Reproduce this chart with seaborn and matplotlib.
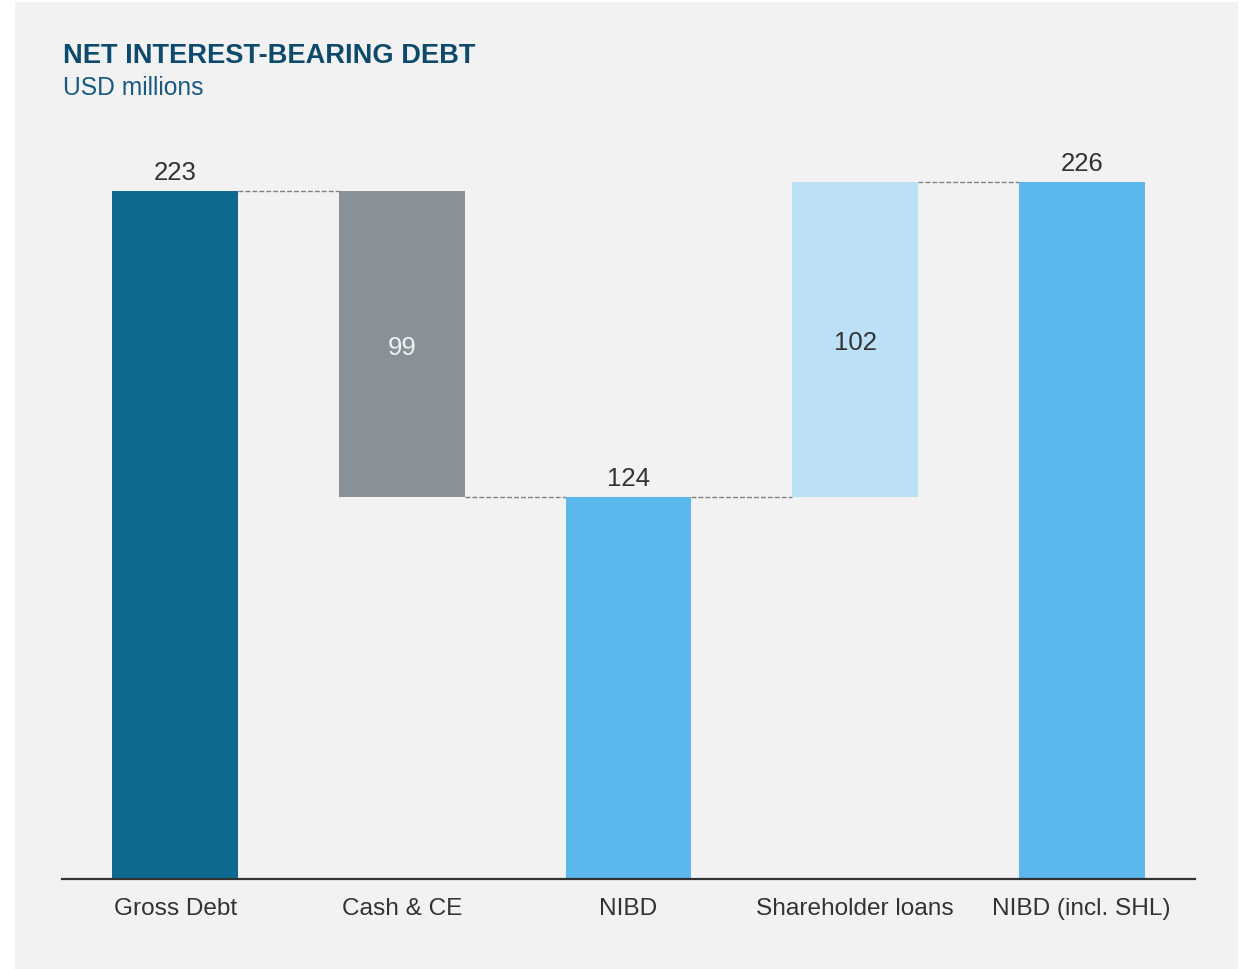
import matplotlib
matplotlib.use("Agg")
import matplotlib.pyplot as plt
from matplotlib.patches import Rectangle
import seaborn as sns
import pandas as pd

# Waterfall data (USD millions)
categories = ["Gross Debt", "Cash & CE", "NIBD", "Shareholder loans", "NIBD (incl. SHL)"]
values = [223, -99, 124, 102, 226]
kinds = ["total", "delta", "total", "delta", "total"]
bar_colors = ["#0f6890", "#879197", "#5bb7ec", "#bce1f6", "#5bb7ec"]
inner_label_colors = {"Cash & CE": "#f2f2f2", "Shareholder loans": "#333333"}

# Compute floating segments
bottoms, heights, tops = [], [], []
level = 0
for v, k in zip(values, kinds):
    if k == "total":
        b, h = 0, v
        level = v
    else:
        start = level
        level = level + v
        b, h = min(start, level), abs(v)
    bottoms.append(b)
    heights.append(h)
    tops.append(b + h)

df = pd.DataFrame({"category": categories, "height": heights, "bottom": bottoms})

sns.set_theme(style="white")
plt.rcParams["font.family"] = ["Liberation Sans", "DejaVu Sans"]

BG = "#f2f2f2"
fig = plt.figure(figsize=(12.43, 9.70), dpi=100, facecolor="white")
fig.patches.append(Rectangle((15 / 1243, 0), 1223 / 1243, 967 / 970,
                             transform=fig.transFigure, facecolor=BG,
                             edgecolor="none", zorder=-10))

ax = fig.add_axes([62 / 1243, 90 / 970, 1133 / 1243, 740 / 970])
ax.set_facecolor(BG)
ax.patch.set_alpha(0)

width = 0.556
sns.barplot(data=df, x="category", y="height", order=categories,
            bottom=df["bottom"].tolist(), width=width, errorbar=None,
            color=bar_colors[0], saturation=1, ax=ax, zorder=2)
for patch, c in zip(ax.patches, bar_colors):
    patch.set_facecolor(c)
    patch.set_edgecolor("none")

# Dashed connectors: each runs at the level shared by two neighbouring bars
for i in range(len(values) - 1):
    if kinds[i] == "total":
        lvl = tops[i]
    elif kinds[i + 1] == "total":
        lvl = tops[i + 1]
    else:
        lvl = bottoms[i] if values[i] < 0 else tops[i]
    if kinds[i] == "delta" and values[i] < 0:
        lvl = bottoms[i]
    ax.plot([i + width / 2, i + 1 - width / 2], [lvl, lvl], color="#808080",
            lw=1.0, ls=(0, (3.5, 1.5)), zorder=1)

# Value labels
for i, (cat, v, k) in enumerate(zip(categories, values, kinds)):
    if k == "total":
        ax.annotate(f"{abs(v)}", (i, tops[i]), xytext=(0, 5),
                    textcoords="offset points", ha="center", va="bottom",
                    fontsize=18.5, color="#333333")
    else:
        ax.text(i, bottoms[i] + heights[i] / 2 - 1, f"{abs(v)}", ha="center",
                va="center", fontsize=18.5, color=inner_label_colors[cat])

ax.set_xlim(-0.5, 4.5)
ax.set_ylim(0, 240)
ax.set_yticks([])
ax.set_xlabel("")
ax.set_ylabel("")
for side in ["top", "right", "left"]:
    ax.spines[side].set_visible(False)
ax.spines["bottom"].set_color("#333333")
ax.spines["bottom"].set_linewidth(1.6)
ax.spines["bottom"].set_zorder(3)
ax.tick_params(axis="x", length=0, pad=13, labelsize=17.6, labelcolor="#333333")

fig.text(63 / 1243, 1 - 63 / 970, "NET INTEREST-BEARING DEBT",
         fontweight="bold", fontsize=19.6, color="#0d4a6b", va="baseline")
fig.text(63 / 1243, 1 - 95 / 970, "USD millions", fontsize=17.7,
         color="#1a5a80", va="baseline")

fig.savefig("out.png", dpi=100, facecolor=fig.get_facecolor())
